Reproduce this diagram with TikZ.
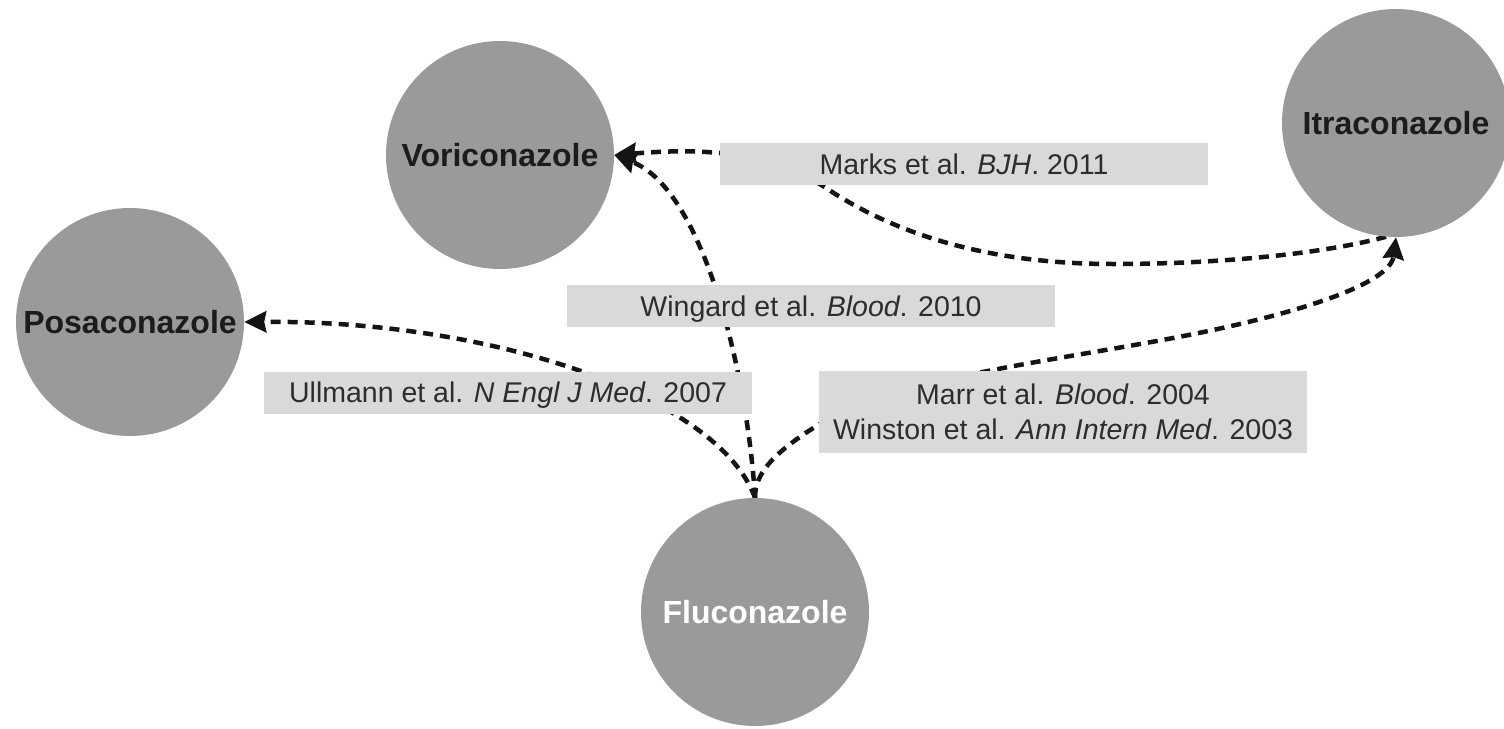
\documentclass[tikz,border=0pt]{standalone}
\usepackage{fontspec}
\setmainfont{Liberation Sans}
\usetikzlibrary{arrows.meta}
\definecolor{circfill}{RGB}{154,154,154}
\definecolor{boxfill}{RGB}{217,217,217}
\definecolor{labtext}{RGB}{45,45,45}
\definecolor{nodetext}{RGB}{28,28,28}
\pgfdeclarelayer{bg}
\pgfsetlayers{bg,main}
\begin{document}
\begin{tikzpicture}[x=1pt,y=-1pt,
  drug/.style={circle, fill=circfill, minimum size=228pt, inner sep=0pt,
    font=\fontsize{32}{36}\selectfont\bfseries, text=nodetext},
  refbase/.style={fill=boxfill, minimum width=488pt, inner sep=0pt,
    font=\fontsize{28.5}{35}\selectfont, text=labtext, align=center},
  refbox/.style={refbase, minimum height=42pt, text height=20.5pt, text depth=0pt},
  conn/.style={line width=4.5pt, dash pattern=on 10pt off 7pt, black!92},
  arrowend/.style={-{Stealth[length=22pt,width=21pt,inset=2pt]}}
]
\useasboundingbox (0,0) rectangle (1504,728);

% drugs
\node[drug] (vori)  at (500,155)  {Voriconazole};
\node[drug] (itra)  at (1396,123) {Itraconazole};
\node[drug] (posa)  at (130,322)  {Posaconazole};
\node[drug, text=white] (fluco) at (755,612) {Fluconazole};

% references
\node[refbox] (marks)   at (964,164)   {Marks et al. \textit{BJH}. 2011};
\node[refbox] (wingard) at (811,306)   {Wingard et al. \textit{Blood}. 2010};
\node[refbox] (ullmann) at (508,392.5) {Ullmann et al. \textit{N Engl J Med}. 2007};
\node[refbase, minimum height=82pt] (marr) at (1063,412)
  {Marr et al. \textit{Blood}. 2004\\Winston et al. \textit{Ann Intern Med}. 2003};

\begin{pgfonlayer}{bg}
% Marks: voriconazole <-> itraconazole
\draw[conn, arrowend] (itra.265)
  .. controls (1330,252) and (1230,264) .. (1113,264)
  .. controls (992,264) and (898,236) .. (826,188)
  .. controls (760,145) and (680,150) .. (vori.east);
% Wingard: fluconazole -> voriconazole
\draw[conn, arrowend] (fluco.north) .. controls (748,380) and (705,190) .. (vori.east);
% Ullmann: fluconazole -> posaconazole
\draw[conn, arrowend] (fluco.north) .. controls (720,400) and (500,320) .. (posa.east);
% Marr / Winston: fluconazole -> itraconazole
\draw[conn, arrowend] (fluco.north)
  .. controls (755,475) and (770,455) .. (818,425)
  .. controls (898,375) and (1083,358) .. (1213,330)
  .. controls (1293,313) and (1390,285) .. (itra.south);
\end{pgfonlayer}
\end{tikzpicture}
\end{document}
